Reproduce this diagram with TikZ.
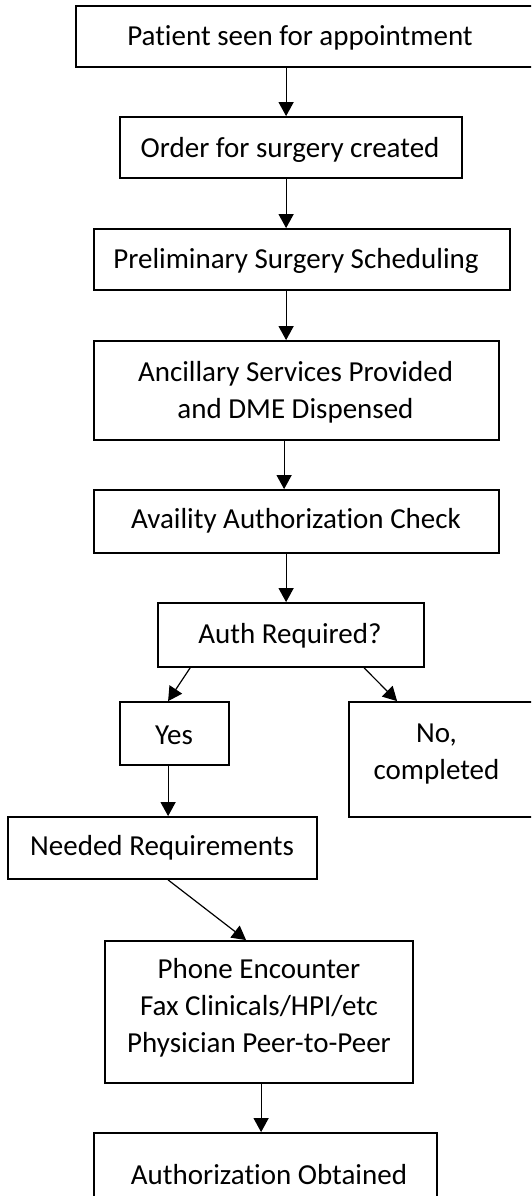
\documentclass[tikz,border=0pt]{standalone}
\usepackage{fontspec}
\setmainfont{Carlito}[Ligatures={NoCommon}]
\usetikzlibrary{arrows.meta,calc}
\begin{document}
\begin{tikzpicture}[x=1pt,y=-1pt,
  box/.style n args={2}{draw, line width=1.8pt, inner sep=0pt, minimum width=#1, minimum height=#2},
  txt/.style={font=\fontsize{29}{37}\selectfont, align=center, inner sep=0pt},
  arr/.style={line width=1.2pt, -{Triangle[width=15pt,length=14pt]}}]
\useasboundingbox (0,0) rectangle (531,1196);
\fill[white] (0,0) rectangle (531,1196);
\clip (0,0) rectangle (531,1196);
% boxes
\node[box={459pt}{61pt}] (b1) at (305.5,36.5) {};
\node[box={342pt}{61pt}] (b2) at (291,147.5) {};
\node[box={416pt}{61pt}] (b3) at (302,259.5) {};
\node[box={405pt}{99pt}] (b4) at (296.5,390.5) {};
\node[box={405pt}{63pt}] (b5) at (296.5,521.5) {};
\node[box={266pt}{64pt}] (b6) at (291,635) {};
\node[box={109pt}{63pt}] (b7) at (174.5,733.5) {};
\node[box={186pt}{115pt}] (b8) at (442,759.5) {};
\node[box={309pt}{62pt}] (b9) at (162.5,848) {};
\node[box={308pt}{142pt}] (b10) at (259,1012) {};
\node[box={343pt}{78pt}] (b11) at (265.5,1172) {};
% texts
\node[txt] (t1) at (300,38) {Patient seen for appointment};
\node[txt] (t2) at (290,150) {Order for surgery created};
\node[txt] (t3) at (296,261) {Preliminary Surgery Scheduling};
\node[txt] (t4) at (295.5,392) {Ancillary Services Provided\\and DME Dispensed};
\node[txt] (t5) at (296,521) {Availity Authorization Check};
\node[txt] (t6) at (290,636) {Auth Required?};
\node[txt] (t7) at (174,735) {Yes};
\node[txt] (t8) at (436.5,754) {No,\\completed};
\node[txt] (t9) at (162,848) {Needed Requirements};
\node[txt] (t10) at (259,1008) {Phone Encounter\\Fax Clinicals/HPI/etc\\Physician Peer-to-Peer};
\node[txt] (t11) at (269,1175) {Authorization Obtained};
% connectors
\draw[arr] ($(b1.south west)+(211,0)$) -- ($(b2.north west)+(167,0)$);
\draw[arr] ($(b2.south west)+(167,0)$) -- ($(b3.north west)+(193,0)$);
\draw[arr] ($(b3.south west)+(193,0)$) -- ($(b4.north west)+(193,0)$);
\draw[arr] ($(b4.south west)+(191,0)$) -- ($(b5.north west)+(191,0)$);
\draw[arr] ($(b5.south west)+(193,0)$) -- ($(b6.north west)+(129,0)$);
\draw[arr] ($(b6.south west)+(33,0)$) -- ($(b7.north west)+(49,0)$);
\draw[arr] ($(b6.south west)+(207,0)$) -- ($(b8.north west)+(49,0)$);
\draw[arr] ($(b7.south west)+(49,0)$) -- ($(b9.north west)+(161,0)$);
\draw[arr] ($(b9.south west)+(161,0)$) -- ($(b10.north west)+(142,0)$);
\draw[arr] ($(b10.south west)+(157,0)$) -- ($(b11.north west)+(168,0)$);
\end{tikzpicture}
\end{document}
